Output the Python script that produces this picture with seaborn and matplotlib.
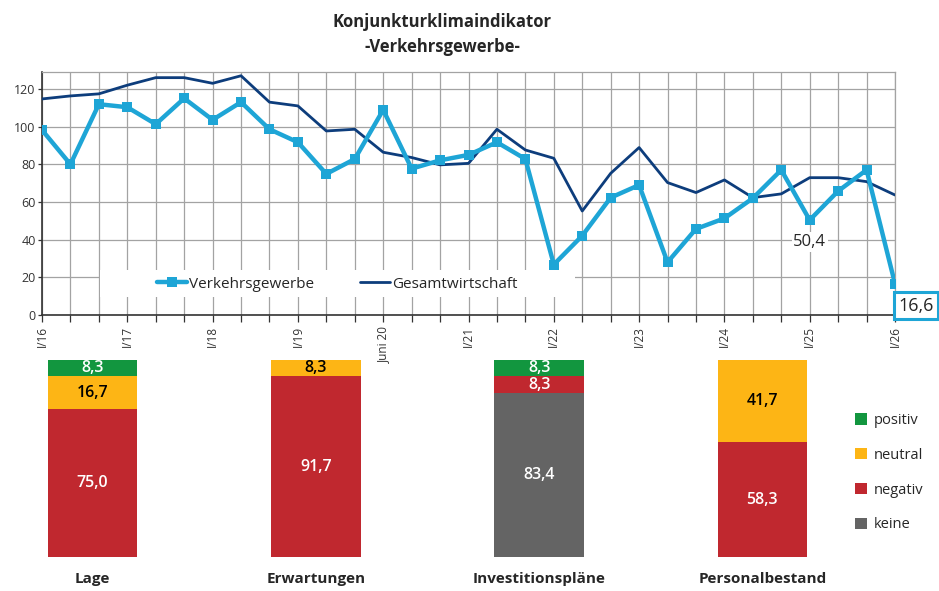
import matplotlib.pyplot as plt
import matplotlib.ticker as mticker
import pandas as pd
import seaborn as sns
from matplotlib.patches import Patch, Rectangle

# line chart data, one point every four months from I/16 to I/26
periods = list(range(31))
tick_pos = [0, 3, 6, 9, 12, 15, 18, 21, 24, 27, 30]
tick_labels = ['I/16', 'I/17', 'I/18', 'I/19', 'Juni 20', 'I/21',
               'I/22', 'I/23', 'I/24', 'I/25', 'I/26']
verkehr = [98.2, 80.0, 111.9, 110.3, 101.3, 115.0, 103.6, 113.0, 98.6, 91.7,
           74.9, 82.8, 108.9, 77.7, 82.1, 85.0, 91.7, 82.8, 26.8, 42.1,
           62.3, 69.0, 28.0, 45.7, 51.3, 62.0, 77.0, 50.4, 65.8, 77.0, 16.6]
gesamt = [114.7, 116.3, 117.4, 122.0, 126.0, 126.0, 123.0, 127.0, 113.0, 111.0,
          97.7, 98.6, 86.4, 83.6, 79.7, 80.5, 98.6, 87.6, 83.2, 55.2,
          75.2, 88.9, 70.3, 65.0, 71.7, 62.3, 64.3, 72.9, 72.9, 70.8, 63.7]

# stacked bars (percent)
bar_cats = ['Lage', 'Erwartungen', 'Investitionspläne', 'Personalbestand']
keine = [0, 0, 83.4, 0]
negativ = [75.0, 91.7, 8.3, 58.3]
neutral = [16.7, 8.3, 0, 41.7]
positiv = [8.3, 0, 8.3, 0]

LIGHT = '#1ea5d6'
NAVY = '#0d3d7c'
GREEN = '#12963f'
ORANGE = '#fdb515'
RED = '#c0282f'
GREY = '#646464'
GRID = '#a3a3a3'

sns.set_style('white')
plt.rcParams['font.family'] = ['Open Sans', 'DejaVu Sans']

fig = plt.figure(figsize=(9.39, 5.91), dpi=100)
W, H = 939, 591

fig.text(442 / W, 1 - 22 / H, 'Konjunkturklimaindikator', ha='center',
         va='center', fontsize=12, fontweight='bold')
fig.text(442 / W, 1 - 47 / H, '-Verkehrsgewerbe-', ha='center',
         va='center', fontsize=12, fontweight='bold')

# ---- stacked bars (drawn first so the line chart labels sit on top) ----
ax2 = fig.add_axes([48 / W, 1 - 557 / H, 759 / W, 197 / H])
ax2.set_facecolor('none')
layers = [('keine', keine, GREY, 'white'),
          ('negativ', negativ, RED, 'white'),
          ('neutral', neutral, ORANGE, 'black'),
          ('positiv', positiv, GREEN, 'white')]

cum = [[0] * len(bar_cats)]
for _, vals, _, _ in layers:
    cum.append([c + v for c, v in zip(cum[-1], vals)])

# draw tallest cumulative first, each lower layer is painted over it
for i in range(len(layers), 0, -1):
    name, vals, col, _ = layers[i - 1]
    sns.barplot(ax=ax2, x=bar_cats, y=cum[i], color=col, width=0.4,
                saturation=1, edgecolor='none', zorder=len(layers) - i + 1)

for i, (name, vals, col, tcol) in enumerate(layers):
    for j, v in enumerate(vals):
        if v > 0:
            ax2.text(j, cum[i][j] + v / 2, f'{v:.1f}'.replace('.', ','),
                     ha='center', va='center', color=tcol, fontsize=11.5,
                     fontweight='semibold', zorder=10)

ax2.set_xlim(-0.2, 3.2)
ax2.set_ylim(0, 100)
ax2.set_yticks([])
ax2.set_ylabel('')
for side in ax2.spines.values():
    side.set_visible(False)
ax2.tick_params(axis='x', length=0, pad=11, labelsize=11)
for lab in ax2.get_xticklabels():
    lab.set_fontweight('bold')

legend_items = [Patch(facecolor=c, edgecolor='none', label=n)
                for n, _, c, _ in layers[::-1]]
fig.legend(handles=legend_items, loc='upper left',
           bbox_to_anchor=(842 / W, 1 - 400 / H), frameon=False,
           fontsize=10.5, handlelength=0.8, handleheight=0.8,
           handletextpad=0.5, labelspacing=1.35)

# ---- line chart ----
ax1 = fig.add_axes([42 / W, 1 - 315 / H, 853 / W, 243 / H])
ax1.set_facecolor('none')
df_line = pd.DataFrame({'period': periods, 'verkehr': verkehr,
                        'gesamt': gesamt})

sns.lineplot(ax=ax1, data=df_line, x='period', y='gesamt', color=NAVY,
             linewidth=2.0, label='Gesamtwirtschaft', zorder=3)
sns.lineplot(ax=ax1, data=df_line, x='period', y='verkehr', color=LIGHT,
             linewidth=3.2, marker='s', markersize=7, markeredgewidth=0,
             label='Verkehrsgewerbe', zorder=4)

ax1.set_xlim(0, 30)
ax1.set_ylim(0, 129)
ax1.set_yticks(range(0, 121, 20))
ax1.set_xticks(tick_pos)
ax1.set_xticklabels(tick_labels, rotation=90)
ax1.xaxis.set_minor_locator(mticker.FixedLocator(periods))
ax1.set_xlabel('')
ax1.set_ylabel('')
ax1.grid(True, axis='x', which='both', color=GRID, linewidth=0.9, zorder=0)
ax1.grid(True, axis='y', which='major', color=GRID, linewidth=0.9, zorder=0)
ax1.set_axisbelow(True)
ax1.tick_params(axis='x', which='both', direction='out', length=5,
                width=0.9, color='#333333', labelsize=8.5,
                labelcolor='#333333', pad=3, bottom=True)
ax1.tick_params(axis='y', direction='out', length=3, width=0.9,
                color='#333333', labelsize=9, labelcolor='#333333', pad=1.5,
                left=True)
for side in ['left', 'bottom']:
    ax1.spines[side].set_color('#333333')
    ax1.spines[side].set_linewidth(1.2)
for side in ['top', 'right']:
    ax1.spines[side].set_color(GRID)
    ax1.spines[side].set_linewidth(0.9)

ax1.add_patch(Rectangle((58 / 853, 18 / 243), 475 / 853, 27 / 243,
                        transform=ax1.transAxes, facecolor='white',
                        edgecolor='none', zorder=2.5))
handles, labels = ax1.get_legend_handles_labels()
ax1.legend(handles[::-1], labels[::-1], loc='center',
           bbox_to_anchor=(295 / 853, 31 / 243), ncol=2, frameon=False,
           fontsize=11, handlelength=2.0, handletextpad=0.1,
           columnspacing=3.0)

last = periods[-1]
ax1.annotate('50,4', xy=(27, verkehr[27]), xytext=(0, -22),
             textcoords='offset pixels', ha='center', va='center',
             fontsize=12, zorder=5,
             bbox=dict(boxstyle='square,pad=0.1', facecolor='white',
                       edgecolor='none'))
ax1.annotate('16,6', xy=(last, verkehr[last]), xytext=(21, -22),
             textcoords='offset pixels', ha='center', va='center',
             fontsize=13, zorder=5, annotation_clip=False,
             bbox=dict(boxstyle='square,pad=0.25', facecolor='white',
                       edgecolor=LIGHT, linewidth=2.2))

fig.savefig('out.png', dpi=100)
